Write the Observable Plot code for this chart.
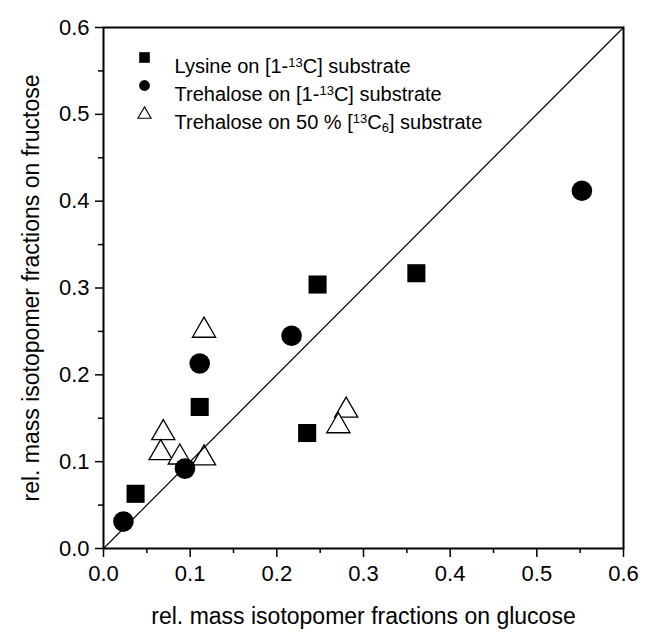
<!DOCTYPE html>
<html>
<head>
<meta charset="utf-8">
<script src="https://cdn.jsdelivr.net/npm/d3@7"></script>
<script src="https://cdn.jsdelivr.net/npm/@observablehq/plot@0.6"></script>
<style>
  html, body { margin: 0; padding: 0; background: #fff; }
  #chart { width: 646px; height: 634px; }
</style>
</head>
<body>
<div id="chart"></div>
<script>
// ---- data ----
const lysineX = [0.037, 0.111, 0.235, 0.247, 0.361];
const lysineY = [0.063, 0.163, 0.133, 0.304, 0.317];

const treha1X = [0.023, 0.094, 0.111, 0.217, 0.552];
const treha1Y = [0.031, 0.092, 0.213, 0.245, 0.412];

const treha50X = [0.116, 0.069, 0.066, 0.088, 0.116, 0.280, 0.271];
const treha50Y = [0.251, 0.133, 0.110, 0.105, 0.104, 0.159, 0.141];

const diagonal = [0, 0.6];

const majorTicks = [0, 0.1, 0.2, 0.3, 0.4, 0.5, 0.6];
const minorTicks = [0.05, 0.15, 0.25, 0.35, 0.45, 0.55];

const xTitle = "rel. mass isotopomer fractions on glucose";
const yTitle = "rel. mass isotopomer fractions on fructose";

// legend label parts: [text, kind]
const legendLabels = [
  [["Lysine on [1-", ""], ["13", "sup"], ["C] substrate", ""]],
  [["Trehalose on [1-", ""], ["13", "sup"], ["C] substrate", ""]],
  [["Trehalose on 50 % [", ""], ["13", "sup"], ["C", ""], ["6", "sub"], ["] substrate", ""]]
];
const legendSymbols = ["square", "circle", "triangle"];

// ---- build ----
const pts = (xs, ys) => xs.map((x, i) => ({x, y: ys[i]}));
const lysine = pts(lysineX, lysineY);
const treha1 = pts(treha1X, treha1Y);
const treha50 = pts(treha50X, treha50Y);

const legendRowDy = [30, 58, 86];
const legendSym = [
  {symbol: "square", r: 6, fill: "black", stroke: "none"},
  {symbol: "circle", r: 5.4, fill: "black", stroke: "none"},
  {symbol: "triangle", r: 4.9, fill: "white", stroke: "black"}
];

const legendMarks = legendLabels.flatMap((parts, i) => [
  Plot.dot([legendSymbols[i]], {
    frameAnchor: "top-left", dx: 41, dy: legendRowDy[i] + (i === 2 ? 1 : 0),
    symbol: legendSym[i].symbol, r: legendSym[i].r,
    fill: legendSym[i].fill, stroke: legendSym[i].stroke, strokeWidth: 1.1
  }),
  Plot.text([parts.map(p => p[0]).join("")], {
    frameAnchor: "top-left", dx: 71, dy: legendRowDy[i] + 1,
    text: d => d, textAnchor: "start", fontSize: 20, fill: "black",
    className: "legend-label-" + i
  })
]);

const chart = Plot.plot({
  width: 646,
  height: 634,
  marginLeft: 103,
  marginRight: 23,
  marginTop: 27,
  marginBottom: 86,
  style: {fontFamily: "'Liberation Sans', Arial, Helvetica, sans-serif", fontSize: "22px", color: "#000", background: "#fff"},
  x: {domain: [0, 0.6]},
  y: {domain: [0, 0.6]},
  marks: [
    Plot.axisX(majorTicks, {tickSize: 9, tickPadding: 8, tickFormat: d => d.toFixed(1), fontSize: 22, label: null, strokeWidth: 1.5}),
    Plot.axisX(minorTicks, {tickSize: 5, tickFormat: () => "", label: null, strokeWidth: 1.5}),
    Plot.axisY(majorTicks, {tickSize: 8, tickPadding: 6, tickFormat: d => d.toFixed(1), fontSize: 22, label: null, strokeWidth: 1.5}),
    Plot.axisY(minorTicks, {tickSize: 5, tickFormat: () => "", label: null, strokeWidth: 1.5}),
    Plot.text([xTitle], {frameAnchor: "bottom", dy: 75, text: d => d, textAnchor: "middle", fontSize: 23, fill: "black"}),
    Plot.text([yTitle], {frameAnchor: "left", dx: -72, rotate: -90, text: d => d, textAnchor: "middle", fontSize: 23, fill: "black"}),
    Plot.dot(treha50, {x: "x", y: "y", symbol: "triangle", r: 8.6, fill: "white", stroke: "black", strokeWidth: 1.3}),
    Plot.dot(lysine, {x: "x", y: "y", symbol: "square", r: 10.2, fill: "black", stroke: "none"}),
    Plot.dot(treha1, {x: "x", y: "y", symbol: "circle", r: 10.3, fill: "black", stroke: "none"}),
    Plot.line(diagonal, {x: d => d, y: d => d, stroke: "black", strokeWidth: 1.2}),
    ...legendMarks,
    Plot.frame({stroke: "black", strokeWidth: 2})
  ]
});

document.getElementById("chart").appendChild(chart);

// rich text (superscripts / subscripts) for legend labels
legendLabels.forEach((parts, i) => {
  d3.select(chart).selectAll(".legend-label-" + i + " text").each(function() {
    const t = d3.select(this);
    t.text(null);
    parts.forEach(([txt, kind]) => {
      const ts = t.append("tspan").text(txt);
      if (kind === "sup") ts.attr("baseline-shift", "45%").attr("font-size", "65%");
      if (kind === "sub") ts.attr("baseline-shift", "-25%").attr("font-size", "65%");
    });
  });
});
</script>
</body>
</html>
